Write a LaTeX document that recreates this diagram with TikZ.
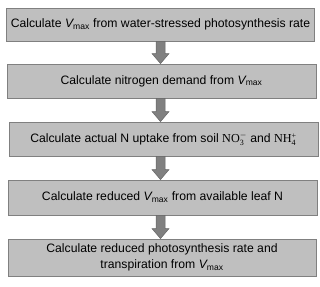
\documentclass[tikz,border=0pt]{standalone}
\usepackage{fontspec}
\setmainfont{Liberation Sans}
\newfontfamily\tnr{Liberation Serif}
\usetikzlibrary{calc}
\newcommand\ionidx[2]{\ensuremath{^{\hbox{\tnr\fontsize{8}{8}\selectfont #2}}_{\hbox{\tnr\fontsize{8}{8}\selectfont #1}}}}
\newcommand\Vmax{{\itshape V}\textsubscript{max}}
\begin{document}
\begin{tikzpicture}[x=1pt,y=-1pt,
  stepbox/.style={draw=black!50, fill=black!25, line width=0.8pt, inner sep=0pt,
    align=center, font=\fontsize{12.2}{15.5}\selectfont},
  flowarrow/.style={draw=black!60, fill=black!50, line width=0.5pt}]
\useasboundingbox (0,0) rectangle (320,286);
\coordinate (cx) at (160.5,0);
\node[stepbox, minimum width=308pt, minimum height=33pt] (b1) at (160.5,24.5)
  {Calculate \Vmax{} from water-stressed photosynthesis rate};
\node[stepbox, minimum width=309pt, minimum height=34pt] (b2) at (161.5,81)
  {Calculate nitrogen demand from \Vmax};
\node[stepbox, minimum width=309pt, minimum height=34pt] (b3) at (163.5,139)
  {Calculate actual N uptake from soil {\tnr NO}\ionidx{3}{$-$} and {\tnr NH}\ionidx{4}{+}};
\node[stepbox, minimum width=309pt, minimum height=35pt] (b4) at (162.5,197.5)
  {Calculate reduced \Vmax{} from available leaf N};
\node[stepbox, minimum width=308pt, minimum height=37pt] (b5) at (162,257.5)
  {Calculate reduced photosynthesis rate and\\ transpiration from \Vmax};
\foreach \a/\b in {b1/b2, b2/b3, b3/b4, b4/b5}{
  \coordinate (s) at (\a.south -| cx);
  \coordinate (e) at (\b.north -| cx);
  \draw[flowarrow] ($(s)+(-4.5,0)$) -- ($(s)+(4.5,0)$) -- ($(e)+(4.5,-10)$)
    -- ($(e)+(8.5,-10)$) -- (e) -- ($(e)+(-8.5,-10)$) -- ($(e)+(-4.5,-10)$) -- cycle;
}
\end{tikzpicture}
\end{document}
